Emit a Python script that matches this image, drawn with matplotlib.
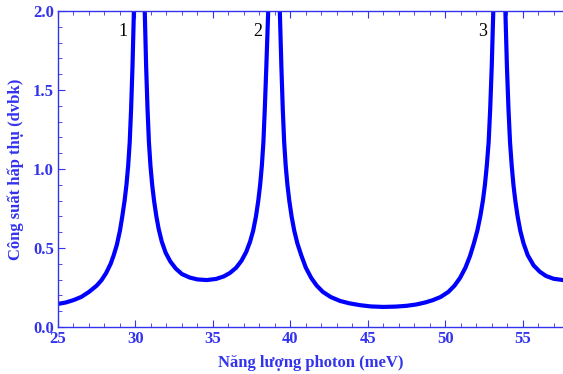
import matplotlib
matplotlib.use("Agg")
import matplotlib.pyplot as plt
from matplotlib.ticker import MultipleLocator, FormatStrFormatter

# Absorption power curve (values above 2.0 are clipped)
energy = [25.0, 25.5, 26.0, 26.5, 27.0, 27.5, 27.8, 28.1, 28.4, 28.6,
          28.8, 29.0, 29.15, 29.3, 29.42, 29.53, 29.63, 29.72, 29.81, 29.9,
          30.0, 30.25, 30.5, 30.6, 30.69, 30.78, 30.87, 30.97, 31.08, 31.2,
          31.35, 31.5, 31.7, 31.95, 32.25, 32.6, 33.0, 33.5, 34.0, 34.6,
          35.2, 35.7, 36.1, 36.5, 36.85, 37.15, 37.4, 37.6, 37.78, 37.93,
          38.05, 38.16, 38.26, 38.35, 38.45, 38.57, 38.7, 38.95, 39.2, 39.32,
          39.42, 39.51, 39.6, 39.7, 39.81, 39.93, 40.08, 40.25, 40.45, 40.7,
          41.0, 41.35, 41.7, 42.1, 42.6, 43.2, 43.8, 44.5, 45.2, 46.0,
          46.8, 47.5, 48.1, 48.7, 49.2, 49.7, 50.2, 50.6, 50.95, 51.3,
          51.6, 51.85, 52.07, 52.26, 52.43, 52.56, 52.68, 52.8, 52.9, 53.0,
          53.1, 53.22, 53.49, 53.76, 53.88, 53.98, 54.08, 54.18, 54.29, 54.4,
          54.52, 54.67, 54.84, 55.05, 55.32, 55.7, 56.1, 56.5, 57.0, 57.6]
power = [0.146, 0.155, 0.170, 0.190, 0.222, 0.262, 0.295, 0.340, 0.400, 0.455,
         0.520, 0.610, 0.700, 0.800, 0.900, 1.020, 1.170, 1.380, 1.650, 2.000,
         2.600, 3.500, 2.600, 2.000, 1.650, 1.380, 1.170, 1.020, 0.900, 0.800,
         0.700, 0.620, 0.540, 0.470, 0.415, 0.370, 0.335, 0.313, 0.301, 0.297,
         0.304, 0.320, 0.342, 0.375, 0.420, 0.475, 0.540, 0.610, 0.700, 0.800,
         0.900, 1.020, 1.170, 1.380, 1.650, 2.000, 2.600, 3.500, 2.600, 2.000,
         1.650, 1.380, 1.170, 1.020, 0.900, 0.800, 0.700, 0.610, 0.530, 0.455,
         0.375, 0.310, 0.262, 0.222, 0.190, 0.165, 0.150, 0.138, 0.130, 0.127,
         0.129, 0.134, 0.142, 0.155, 0.170, 0.190, 0.222, 0.262, 0.310, 0.375,
         0.450, 0.530, 0.610, 0.700, 0.800, 0.900, 1.020, 1.170, 1.380, 1.650,
         2.000, 2.600, 3.500, 2.600, 2.000, 1.650, 1.380, 1.170, 1.020, 0.900,
         0.800, 0.700, 0.610, 0.530, 0.455, 0.390, 0.350, 0.323, 0.305, 0.297]

peak_labels = ["1", "2", "3"]
peak_x = [29.2, 37.9, 52.4]
peak_y = [1.87, 1.87, 1.87]

blue = "#0000ff"
axis_blue = "#3333ee"

fig = plt.figure(figsize=(5.63, 3.74), dpi=100)
ax = fig.add_axes([0.103, 0.1257, 0.897, 0.845])

ax.plot(energy, power, color=blue, linewidth=3.0, solid_joinstyle="round")

for lab, xx, yy in zip(peak_labels, peak_x, peak_y):
    ax.text(xx, yy, lab, fontsize=13, family="Liberation Serif", color="black",
            ha="center", va="center")

ax.set_xlim(25, 57.6)
ax.set_ylim(0, 2.0)

ax.xaxis.set_major_locator(MultipleLocator(5))
ax.xaxis.set_minor_locator(MultipleLocator(1))
ax.yaxis.set_major_locator(MultipleLocator(0.5))
ax.yaxis.set_minor_locator(MultipleLocator(0.1))
ax.yaxis.set_major_formatter(FormatStrFormatter("%.1f"))

ax.tick_params(which="both", direction="in", colors=axis_blue, top=True,
               right=False, labelcolor=axis_blue)
ax.tick_params(which="major", length=5, width=0.8, labelsize=12, pad=3)
ax.tick_params(which="minor", length=3, width=0.6)
for lbl in ax.get_xticklabels() + ax.get_yticklabels():
    lbl.set_family("Liberation Serif")
    lbl.set_fontweight("bold")

for side in ["left", "bottom", "top"]:
    ax.spines[side].set_color(axis_blue)
    ax.spines[side].set_linewidth(1.0)
ax.spines["right"].set_visible(False)

ax.set_xlabel("Năng lượng photon (meV)", family="Liberation Serif",
              fontweight="bold", fontsize=12, color=axis_blue, labelpad=6)
ax.set_ylabel("Công suất hấp thụ (dvbk)", family="Liberation Serif",
              fontweight="bold", fontsize=12, color=axis_blue, labelpad=6)

fig.savefig("out.png", dpi=100)
